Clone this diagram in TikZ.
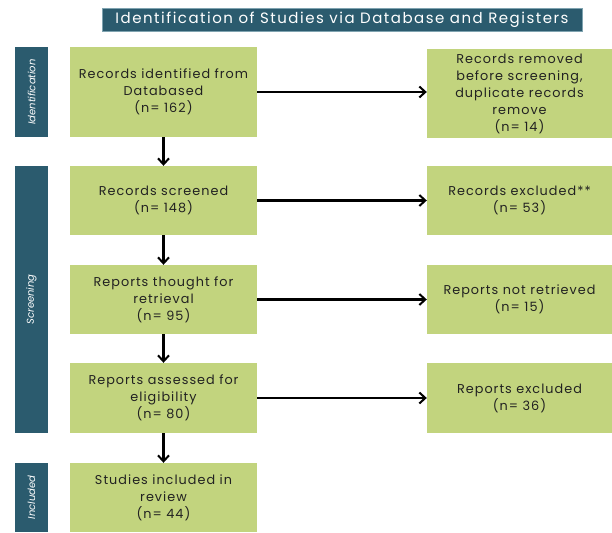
\documentclass[tikz,border=0pt]{standalone}
\usepackage{fontspec}
\setmainfont{Poppins}
\newfontfamily\spaced[LetterSpace=8]{Poppins}
\newfontfamily\tspaced[LetterSpace=10]{Poppins}
\usetikzlibrary{arrows.meta}
\definecolor{boxgreen}{HTML}{C2D47E}
\definecolor{teal}{HTML}{2B5B6E}
\definecolor{tealedge}{HTML}{7FA3B0}
\definecolor{txt}{HTML}{222222}
\tikzset{
  gbox/.style={fill=boxgreen, draw=none, align=center, text=txt, font=\spaced\fontsize{12.8}{17}\selectfont, inner sep=0pt},
  sidebar/.style={fill=teal, draw=none, text=white, font=\fontsize{10}{11}\selectfont\itshape, minimum width=33pt, inner sep=0pt, rotate=90},
  arr/.style={-{Straight Barb[length=6pt,width=11pt,line width=2pt]}, line width=2.4pt, black}
}
\begin{document}
\begin{tikzpicture}[x=1pt,y=-1pt]
\useasboundingbox (0,0) rectangle (612,532);
% title
\node[fill=teal, draw=tealedge, line width=0.6pt, text=white, minimum width=480pt, minimum height=23pt, inner sep=0pt, font=\tspaced\fontsize{15}{16}\selectfont] (title) at (342,19.5) {Identification of Studies via Database and Registers};
% side bars
\node[sidebar, minimum height=33pt, minimum width=90pt] (sid) at (31.5,92) {Identification};
\node[sidebar, minimum height=33pt, minimum width=267pt] (ssc) at (31.5,299.5) {Screening};
\node[sidebar, minimum height=33pt, minimum width=69pt] (sin) at (31.5,497.5) {Included};
% left boxes
\node[gbox, minimum width=187pt, minimum height=90pt] (b1) at (163.5,92) {Records identified from\\Databased\\(n= 162)};
\node[gbox, minimum width=187pt, minimum height=69pt] (b2) at (163.5,200.5) {Records screened\\(n= 148)};
\node[gbox, minimum width=187pt, minimum height=69pt] (b3) at (163.5,299.5) {Reports thought for\\retrieval\\(n= 95)};
\node[gbox, minimum width=187pt, minimum height=70pt] (b4) at (163.5,398) {Reports assessed for\\eligibility\\(n= 80)};
\node[gbox, minimum width=187pt, minimum height=69pt] (b5) at (163.5,497.5) {Studies included in\\review\\(n= 44)};
% right boxes
\node[gbox, minimum width=185pt, minimum height=89pt] (r1) at (519.5,93.5) {Records removed\\before screening,\\duplicate records\\remove\\(n= 14)};
\node[gbox, minimum width=185pt, minimum height=69pt] (r2) at (519.5,200.5) {Records excluded**\\(n= 53)};
\node[gbox, minimum width=185pt, minimum height=69pt] (r3) at (519.5,299.5) {Reports not retrieved\\(n= 15)};
\node[gbox, minimum width=185pt, minimum height=70pt] (r4) at (519.5,398) {Reports excluded\\(n= 36)};
% arrows
\draw[arr] (b1.south) -- (b2.north);
\draw[arr] (b2.south) -- (b3.north);
\draw[arr] (b3.south) -- (b4.north);
\draw[arr] (b4.south) -- (b5.north);
\draw[arr] (b1.east) -- (b1.east -| r1.west);
\draw[arr] (b2.east) -- (r2.west);
\draw[arr] (b3.east) -- (r3.west);
\draw[arr] (b4.east) -- (r4.west);
\end{tikzpicture}
\end{document}
